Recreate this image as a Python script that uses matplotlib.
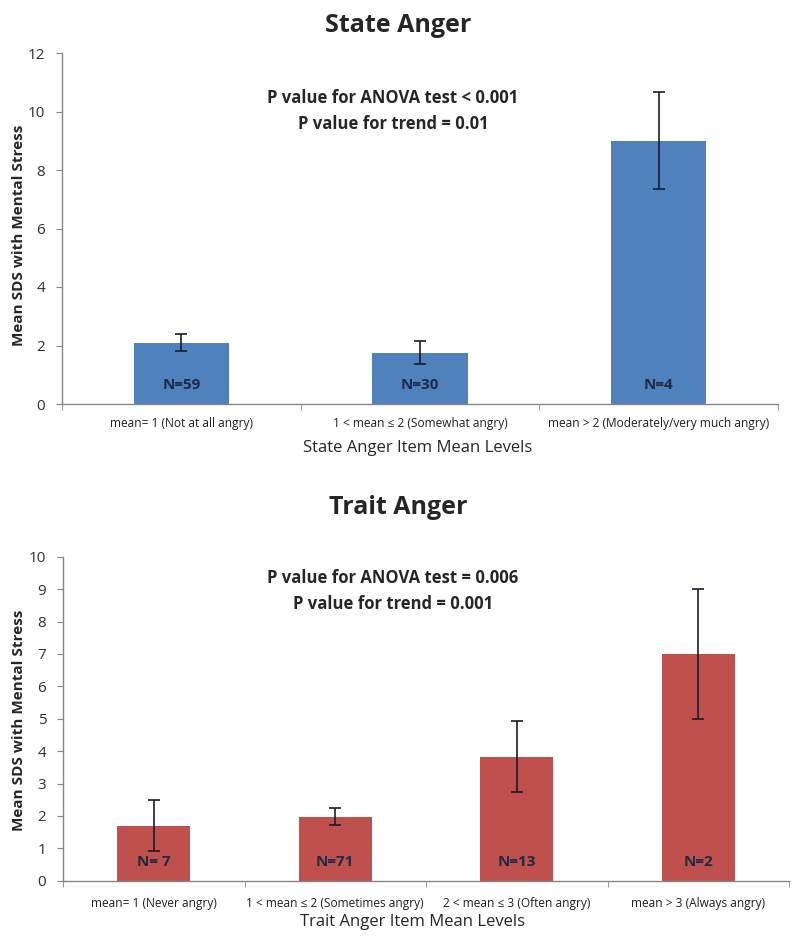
import numpy as np
import matplotlib.pyplot as plt

# State anger panel
state_labels = ['mean= 1 (Not at all angry)', '1 < mean \u2264 2 (Somewhat angry)',
                'mean > 2 (Moderately/very much angry)']
state_means = [2.1, 1.76, 9.0]
state_err = [0.3, 0.4, 1.65]
state_n = ['N=59', 'N=30', 'N=4']

# Trait anger panel
trait_labels = ['mean= 1 (Never angry)', '1 < mean \u2264 2 (Sometimes angry)',
                '2 < mean \u2264 3 (Often angry)', 'mean > 3 (Always angry)']
trait_means = [1.7, 1.98, 3.83, 7.0]
trait_err = [0.78, 0.27, 1.1, 2.0]
trait_n = ['N= 7', 'N=71', 'N=13', 'N=2']

W, H = 800, 942
BLUE = '#4F81BD'
RED = '#C0504D'
AXIS_GREY = '#868686'
TEXT_DARK = '#262626'

plt.rcParams['font.family'] = ['Open Sans', 'DejaVu Sans']

fig = plt.figure(figsize=(W / 100, H / 100), dpi=100)


def px_axes(x0, y_top, x1, y_bot):
    return fig.add_axes([x0 / W, 1 - y_bot / H, (x1 - x0) / W, (y_bot - y_top) / H])


def draw_panel(ax, labels, means, errs, nlabels, color, ymax, ystep, n_y, pad):
    x = np.arange(len(means))
    ax.bar(x, means, width=0.4, color=color, zorder=2)
    ax.errorbar(x, means, yerr=errs, fmt='none', ecolor='#1a1a2e',
                elinewidth=1.2, capsize=4, capthick=1.2, zorder=3)
    for xi, lab in zip(x, nlabels):
        ax.text(xi, n_y, lab, ha='center', va='center', fontsize=11,
                fontweight='bold', color='#1F2A44', zorder=4)

    ax.set_xlim(-0.5, len(means) - 0.5)
    ax.set_ylim(0, ymax)
    ax.set_yticks(np.arange(0, ymax + 0.1, ystep))
    ax.set_xticks(x)
    ax.set_xticklabels(labels, fontsize=8.6, color='#202020')
    ax.set_xticks(np.arange(-0.5, len(means) - 0.4, 1), minor=True)
    ax.tick_params(axis='x', which='major', length=0, pad=pad)
    ax.tick_params(axis='x', which='minor', length=4, color=AXIS_GREY)
    ax.tick_params(axis='y', length=4, color=AXIS_GREY, labelsize=11,
                   labelcolor='#303030', pad=8)
    for side in ['top', 'right']:
        ax.spines[side].set_visible(False)
    for side in ['left', 'bottom']:
        ax.spines[side].set_color(AXIS_GREY)
        ax.spines[side].set_linewidth(1.0)


# top panel
ax1 = px_axes(62, 53, 778, 404)
draw_panel(ax1, state_labels, state_means, state_err, state_n, BLUE, 12, 2, 0.65, 9)

# bottom panel
ax2 = px_axes(63, 556.7, 789, 880.7)
draw_panel(ax2, trait_labels, trait_means, trait_err, trait_n, RED, 10, 1, 0.58, 12)


def ftext(x, y, s, **kw):
    fig.text(x / W, 1 - y / H, s, ha='center', va='center', color=TEXT_DARK, **kw)


ftext(398, 26, 'State Anger', fontsize=18, fontweight='bold')
ftext(393, 98, 'P value for ANOVA test < 0.001', fontsize=12, fontweight='bold')
ftext(393, 124, 'P value for trend = 0.01', fontsize=12, fontweight='bold')
ftext(418, 448, 'State Anger Item Mean Levels', fontsize=12)
ftext(19, 235, 'Mean SDS with Mental Stress', fontsize=11, fontweight='bold',
      rotation=90)

ftext(398, 508, 'Trait Anger', fontsize=18, fontweight='bold')
ftext(393, 578, 'P value for ANOVA test = 0.006', fontsize=12, fontweight='bold')
ftext(393, 604, 'P value for trend = 0.001', fontsize=12, fontweight='bold')
ftext(413, 922, 'Trait Anger Item Mean Levels', fontsize=12)
ftext(19, 720, 'Mean SDS with Mental Stress', fontsize=11, fontweight='bold',
      rotation=90)

fig.savefig('out.png', dpi=100, facecolor='white')
